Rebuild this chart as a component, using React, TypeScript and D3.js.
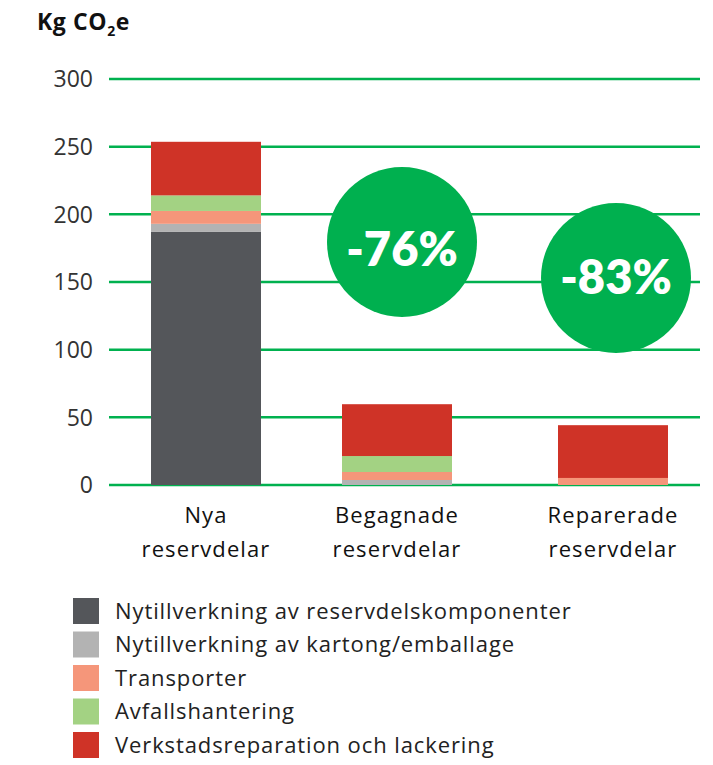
import React from "react";
import * as d3 from "d3";

const categories = ["Nya|reservdelar", "Begagnade|reservdelar", "Reparerade|reservdelar"];
const seriesNames = [
  "Nytillverkning av reservdelskomponenter",
  "Nytillverkning av kartong/emballage",
  "Transporter",
  "Avfallshantering",
  "Verkstadsreparation och lackering",
];
const komponenter = [187, 0, 0];
const kartong = [6, 3.7, 0];
const transporter = [9.5, 5.9, 5.2];
const avfall = [11.5, 11.8, 0];
const verkstad = [39.6, 38.3, 39];
const reductions = ["", "-76%", "-83%"];
const yTicks = [0, 50, 100, 150, 200, 250, 300];
const colors = ["#54565a", "#b3b3b3", "#f5967a", "#a3d283", "#cf3327"];

const W = 713;
const H = 765;
const FONT = "'Open Sans', sans-serif";
const BIG = "Lato, sans-serif";

export default function App() {
  const seriesVals = [komponenter, kartong, transporter, avfall, verkstad];
  const rows = categories.map((c, i) => {
    const r: any = { cat: c };
    seriesNames.forEach((s, k) => (r[s] = seriesVals[k][i]));
    return r;
  });
  const stacked = d3.stack<any>().keys(seriesNames)(rows);
  const y = d3.scaleLinear().domain([0, 300]).range([485, 79]);
  const xCenter = d3.scaleOrdinal<string, number>().domain(categories).range([206, 397, 613]);
  const barW = 110;
  const gridX0 = 109;
  const gridX1 = 700;
  const circleY = [0, 242, 278];
  const circleX = [0, 402, 616];
  const labelShift = [0, 7, -1];

  return (
    <svg
      width={W}
      height={H}
      style={{ position: "absolute", left: 0, top: 0, display: "block", background: "#fff" }}
      fontFamily={FONT}
    >
      <text x={37} y={30} fontSize={23} fontWeight={700} fill="#111" letterSpacing={0.6}>
        Kg CO
        <tspan fontSize={14} dy={6}>2</tspan>
        <tspan dy={-6}>e</tspan>
      </text>
      {yTicks.map((t) => (
        <g key={t}>
          <line x1={gridX0} x2={gridX1} y1={y(t)} y2={y(t)} stroke="#00b14f" strokeWidth={2.5} />
          <text x={93} y={y(t)} dy="0.36em" textAnchor="end" fontSize={23} fill="#333">
            {t}
          </text>
        </g>
      ))}
      {stacked.map((layer, k) => (
        <g key={layer.key} fill={colors[k]}>
          {layer.map((d, i) =>
            d[1] - d[0] > 0 ? (
              <rect
                key={i}
                x={xCenter(categories[i]) - barW / 2}
                y={y(d[1])}
                width={barW}
                height={y(d[0]) - y(d[1])}
              />
            ) : null
          )}
        </g>
      ))}
      {categories.map((c) => (
        <text
          key={c}
          x={xCenter(c)}
          y={523}
          textAnchor="middle"
          fontSize={22}
          fill="#111"
          letterSpacing={1.1}
        >
          {c.split("|").map((l, j) => (
            <tspan key={j} x={xCenter(c)} dy={j === 0 ? 0 : 34}>
              {l}
            </tspan>
          ))}
        </text>
      ))}
      {reductions.map((r, i) =>
        r ? (
          <g key={i}>
            <circle cx={circleX[i]} cy={circleY[i]} r={75} fill="#00b04f" />
            <text
              x={circleX[i]}
              y={circleY[i] + labelShift[i]}
              dy="0.36em"
              textAnchor="middle"
              fontSize={47}
              fontWeight={800}
              fontFamily={BIG}
              fill="#fff"
            >
              {r}
            </text>
          </g>
        ) : null
      )}
      {seriesNames.map((s, k) => (
        <g key={s} transform={`translate(73, ${598 + k * 33.5})`}>
          <rect width={26} height={26} fill={colors[k]} />
          <text x={42} y={13} dy="0.36em" fontSize={22} fill="#222" letterSpacing={0.9}>
            {s}
          </text>
        </g>
      ))}
    </svg>
  );
}
